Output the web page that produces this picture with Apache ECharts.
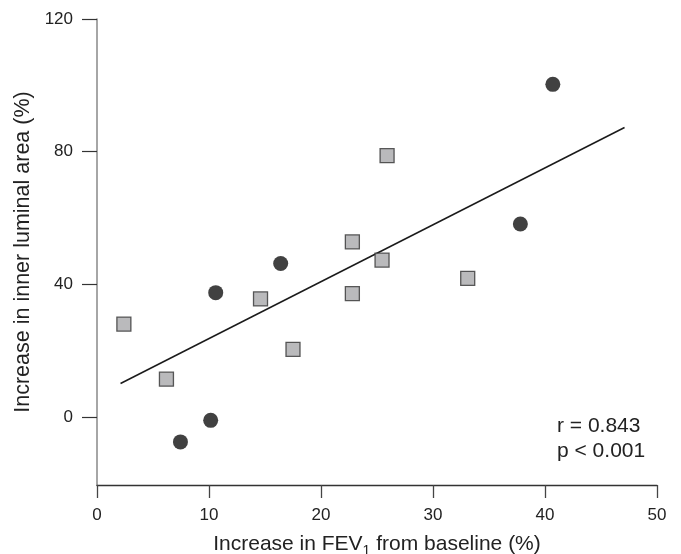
<!DOCTYPE html>
<html>
<head>
<meta charset="utf-8">
<script src="https://cdn.jsdelivr.net/npm/echarts@6/dist/echarts.min.js"></script>
<style>html,body{margin:0;padding:0;background:#fff;overflow:hidden;}#c{width:681px;height:554px;}</style>
</head>
<body>
<div id="c"></div>
<script>
// Data
var circlePoints = [[40.7, 100.3], [37.8, 58.2], [16.4, 46.3], [10.6, 37.5], [10.15, -1.0], [7.45, -7.5]];
var squarePoints = [[2.4, 28.0], [6.2, 11.4], [14.6, 35.6], [17.5, 20.4], [22.8, 52.8], [22.8, 37.2], [25.9, 78.8], [25.45, 47.3], [33.1, 41.8]];
var fitLine = [[2.1, 10.1], [47.1, 87.3]];
var xTicks = [0, 10, 20, 30, 40, 50];
var yTicks = [0, 40, 80, 120];
var statText = ['r = 0.843', 'p < 0.001'];

var chart = echarts.init(document.getElementById('c'));
var font = 'Liberation Sans, Arial, Helvetica, sans-serif';
chart.setOption({
  animation: false,
  backgroundColor: '#fff',
  grid: {left: 97, right: 24, top: 19, bottom: 69, containLabel: false, outerBoundsMode: 'none'},
  xAxis: {
    type: 'value', min: 0, max: 50, interval: 10,
    name: 'Increase in FEV{sub|1} from baseline (%)',
    nameLocation: 'middle', nameGap: 45,
    nameTextStyle: {fontFamily: font, fontSize: 21, lineHeight: 28, color: '#222',
      rich: {sub: {fontFamily: font, fontSize: 14, lineHeight: 14, color: '#222', verticalAlign: 'bottom'}}},
    axisLine: {show: true, onZero: false, lineStyle: {color: '#333', width: 1.3}},
    axisTick: {show: true, length: 13, lineStyle: {color: '#444', width: 1.3}, customValues: xTicks},
    axisLabel: {fontFamily: font, fontSize: 17, color: '#222', margin: 22, customValues: xTicks},
    splitLine: {show: false}
  },
  yAxis: {
    type: 'value', min: -20.5, max: 120,
    name: 'Increase in inner luminal area (%)',
    nameLocation: 'middle', nameGap: 63,
    nameTextStyle: {fontFamily: font, fontSize: 21.5, color: '#222'},
    axisLine: {show: true, onZero: false, lineStyle: {color: '#888', width: 1.5}},
    axisTick: {show: true, length: 15, lineStyle: {color: '#333', width: 1.2}, customValues: yTicks},
    axisLabel: {fontFamily: font, fontSize: 17, color: '#222', margin: 24, customValues: yTicks},
    splitLine: {show: false}
  },
  series: [
    {
      type: 'line', data: fitLine, symbol: 'none', silent: true,
      lineStyle: {color: '#1a1a1a', width: 1.5}, z: 1
    },
    {
      type: 'scatter', data: squarePoints, symbol: 'rect', symbolSize: 14,
      itemStyle: {color: '#a9a9ab', borderColor: '#333', borderWidth: 1.3}, z: 3
    },
    {
      type: 'scatter', data: circlePoints, symbol: 'circle', symbolSize: 15,
      itemStyle: {color: '#111'}, z: 3
    }
  ],
  graphic: [
    {type: 'text', left: 557, top: 416, style: {text: statText[0], fontFamily: font, fontSize: 21, fill: '#222'}},
    {type: 'text', left: 557, top: 441, style: {text: statText[1], fontFamily: font, fontSize: 21, fill: '#222'}}
  ]
});
</script>
</body>
</html>
